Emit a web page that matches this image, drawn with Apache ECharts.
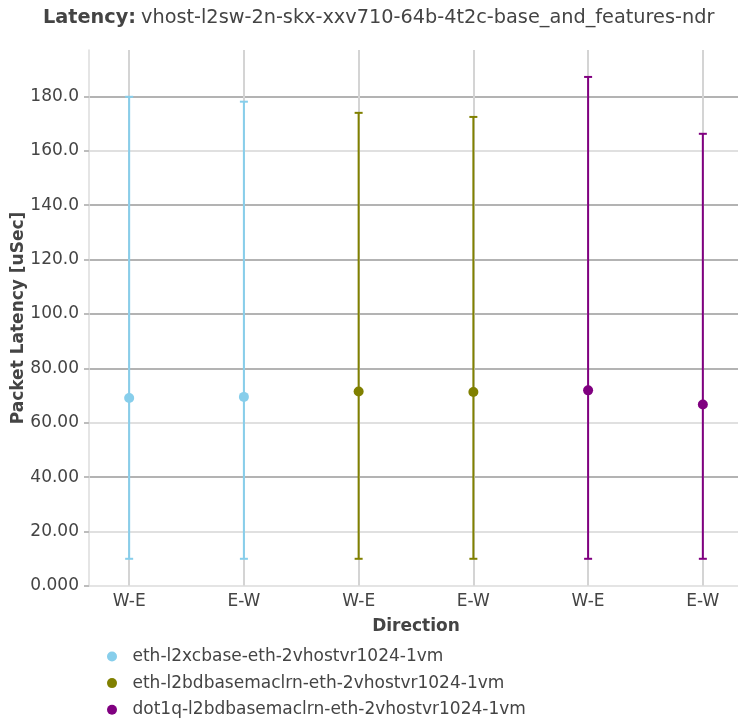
<!DOCTYPE html>
<html><head><meta charset="utf-8">
<script src="https://cdn.jsdelivr.net/npm/echarts@6/dist/echarts.min.js"></script>
<style>html,body{margin:0;padding:0;background:#fff}#c{width:738px;height:724px}</style>
</head><body><div id="c"></div>
<script>
const categories = ['W-E', 'E-W', 'W-E', 'E-W', 'W-E', 'E-W'];
const seriesNames = [
  'eth-l2xcbase-eth-2vhostvr1024-1vm',
  'eth-l2bdbasemaclrn-eth-2vhostvr1024-1vm',
  'dot1q-l2bdbasemaclrn-eth-2vhostvr1024-1vm'
];
const seriesColors = ['#87ceeb', '#808000', '#800080'];
const catIndex = [[0, 1], [2, 3], [4, 5]];
const avgLatency = [[69.1, 69.5], [71.5, 71.3], [71.9, 66.7]];
const minLatency = [[10, 10], [10, 10], [10, 10]];
const maxLatency = [[179.8, 178.0], [173.9, 172.4], [187.1, 166.2]];
const yTicks = [0, 20, 40, 60, 80, 100, 120, 140, 160, 180];
const xTicks = categories.map((c, i) => i);

const FONT = 'DejaVu Sans';
const TXT = '#444';

function renderErr(params, api) {
  const x = api.value(0);
  const lo = api.coord([x, api.value(1)]);
  const hi = api.coord([x, api.value(2)]);
  const color = api.visual('color');
  const cap = 4;
  const style = { stroke: color, lineWidth: 2 };
  return {
    type: 'group',
    children: [
      { type: 'line', shape: { x1: lo[0], y1: lo[1], x2: hi[0], y2: hi[1] }, style: style },
      { type: 'line', shape: { x1: hi[0] - cap, y1: hi[1], x2: hi[0] + cap, y2: hi[1] }, style: style },
      { type: 'line', shape: { x1: lo[0] - cap, y1: lo[1], x2: lo[0] + cap, y2: lo[1] }, style: style }
    ]
  };
}

const series = [];
seriesNames.forEach((name, i) => {
  series.push({
    name: name,
    type: 'custom',
    renderItem: renderErr,
    itemStyle: { color: seriesColors[i] },
    encode: { x: 0, y: [1, 2] },
    data: catIndex[i].map((x, j) => [x, minLatency[i][j], maxLatency[i][j]]),
    z: 2,
    silent: true
  });
});
seriesNames.forEach((name, i) => {
  series.push({
    name: name,
    type: 'scatter',
    symbol: 'circle',
    symbolSize: 10,
    itemStyle: { color: seriesColors[i], opacity: 1 },
    data: catIndex[i].map((x, j) => [x, avgLatency[i][j]]),
    z: 3
  });
});

const chart = echarts.init(document.getElementById('c'), null, { renderer: 'canvas' });
chart.setOption({
  backgroundColor: '#fff',
  animation: false,
  title: {
    text: '{b|Latency:} {n|vhost-l2sw-2n-skx-xxv710-64b-4t2c-base_and_features-ndr}',
    left: 43,
    top: 8,
    padding: 0,
    textStyle: {
      rich: {
        b: { fontFamily: FONT, fontSize: 19.3, fontWeight: 'bold', color: TXT },
        n: { fontFamily: FONT, fontSize: 19.3, fontWeight: 'normal', color: TXT }
      }
    }
  },
  grid: { left: 89, right: -5, top: 50, bottom: 138, containLabel: false, outerBoundsMode: 'none' },
  legend: {
    orient: 'vertical',
    left: 107,
    top: 648,
    padding: 0,
    icon: 'circle',
    itemWidth: 31,
    itemHeight: 10,
    itemGap: 9.6,
    data: seriesNames,
    textStyle: { fontFamily: FONT, fontSize: 17, color: TXT, lineHeight: 17 }
  },
  xAxis: {
    type: 'value',
    min: -0.35,
    max: 5.35,
    name: 'Direction',
    nameLocation: 'middle',
    nameGap: 32,
    nameMoveOverlap: false,
    nameTextStyle: { fontFamily: FONT, fontSize: 17, fontWeight: 'bold', color: TXT },
    axisLine: { show: true, onZero: false, lineStyle: { color: '#dcdcdc', width: 1.5 } },
    axisTick: { show: false, customValues: xTicks },
    axisLabel: {
      customValues: xTicks,
      formatter: v => categories[Math.round(v)],
      fontFamily: FONT, fontSize: 17, color: TXT, margin: 7
    },
    splitLine: { show: true, showMinLine: true, showMaxLine: true, lineStyle: { color: '#d4d4d4', width: 2 } }
  },
  yAxis: {
    type: 'value',
    min: 0,
    max: 197,
    interval: 20,
    name: 'Packet Latency [uSec]',
    nameLocation: 'middle',
    nameGap: 62,
    nameMoveOverlap: false,
    nameTextStyle: { fontFamily: FONT, fontSize: 17, fontWeight: 'bold', color: TXT },
    axisLine: { show: true, onZero: false, lineStyle: { color: '#dcdcdc', width: 1.5 } },
    axisTick: { show: true, length: 5, customValues: yTicks, lineStyle: { color: '#bdbdbd', width: 2 } },
    axisLabel: {
      customValues: yTicks,
      formatter: v => v === 0 ? '0.000' : (v < 100 ? v.toFixed(2) : v.toFixed(1)),
      fontFamily: FONT, fontSize: 17, color: TXT, margin: 10
    },
    splitLine: {
      show: true, showMinLine: false, showMaxLine: true,
      lineStyle: {
        width: 2,
        color: ['#e0e0e0', '#b3b3b3', '#e0e0e0', '#b3b3b3', '#b3b3b3', '#b3b3b3', '#b3b3b3', '#e0e0e0', '#b3b3b3']
      }
    }
  },
  series: series
});
</script>
</body></html>
